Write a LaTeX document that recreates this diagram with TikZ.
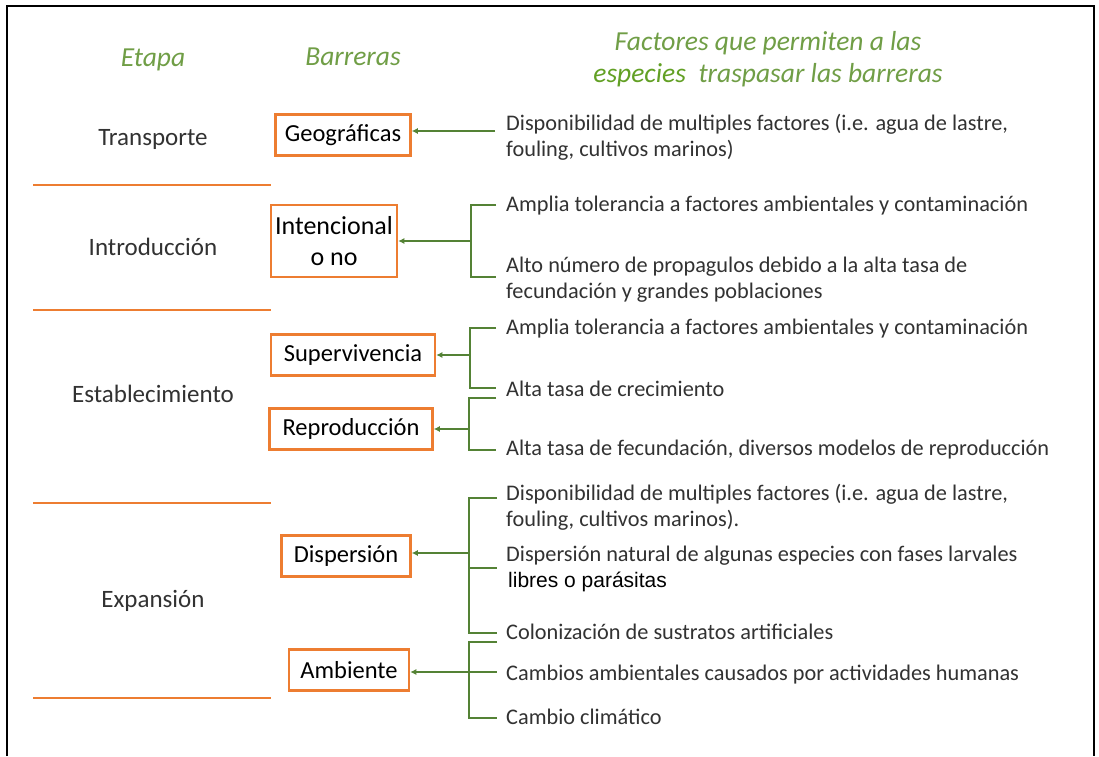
\documentclass[tikz,border=0pt]{standalone}
\usepackage{fontspec}
\setmainfont{Carlito}
\newfontfamily\arialfont{Liberation Sans}
\usetikzlibrary{arrows.meta, positioning}
\definecolor{barrgreen}{RGB}{84,130,53}
\definecolor{headgreen}{RGB}{112,158,70}
\definecolor{spgreen}{RGB}{98,160,36}
\definecolor{barrorange}{RGB}{237,125,49}
\definecolor{textgray}{RGB}{50,50,50}

\begin{document}
\begin{tikzpicture}[x=1pt, y=-1pt,
      header/.style={
          font=\fontsize{27.5}{32}\selectfont\itshape,
          text=headgreen,
          align=center
        },
      stage/.style={
          font=\fontsize{25}{30}\selectfont,
          text=textgray
        },
      barrier/.style={
          draw=barrorange,
          fill=white,
          line width=2.5pt,
          minimum height=41pt,
          inner sep=2pt,
          font=\fontsize{24.5}{29}\selectfont,
          text=black,
          align=center
        },
      factor/.style={
          anchor=west,
          inner sep=0pt,
          font=\fontsize{22.3}{26}\selectfont,
          text=textgray,
          align=left
        },
      rule/.style={barrorange, line width=2.5pt},
      brace/.style={barrgreen, line width=2.8pt},
      flow/.style={-{Latex[length=6pt,width=6pt]}, barrgreen, line width=2.8pt}
    ]
    \useasboundingbox (0,0) rectangle (1099,756);
    \fill[white] (0,0) rectangle (1099,756);
    \draw[line width=2pt] (7,756) -- (7,6) -- (1094,6) -- (1094,756);

    \node[header] (hstage) at (153,60) {Etapa};
    \node[header] (hbarr) at (353,57) {Barreras};
    \node[header] (hfact) at (768,59) {Factores que permiten a las\\{\color{spgreen}especies}\ \ traspasar las barreras};

    \node[stage] (transp) at (153,139) {Transporte};
    \node[stage] (intro) at (153,247) {Introducción};
    \node[stage] (estab) at (153,394) {Establecimiento};
    \node[stage] (expan) at (153,601) {Expansión};

    \draw[rule] (33,185) -- (271,185);
    \draw[rule] (33,310) -- (271,310);
    \draw[rule] (33,503) -- (271,503);
    \draw[rule] (33,698) -- (271,698);

    \node[barrier, minimum width=135pt] (geo) at (343,135) {Geográficas};
    \node[barrier, minimum width=126pt, minimum height=72pt, font=\fontsize{26}{31}\selectfont] (intenc) at (334,241) {Intencional\\o no};
    \node[barrier, minimum width=164pt] (superv) at (353,355) {Supervivencia};
    \node[barrier, minimum width=163pt] (reprod) at (351,429) {Reproducción};
    \node[barrier, minimum width=129pt] (disp) at (346,556) {Dispersión};
    \node[barrier, minimum width=120pt] (amb) at (349,670) {Ambiente};

    \node[factor] (f1) at (506,137) {Disponibilidad de multiples factores (i.e. agua de lastre,\\fouling, cultivos marinos)};
    \node[factor] (f2) at (506,206) {Amplia tolerancia a factores ambientales y contaminación};
    \node[factor] (f3) at (506,280) {Alto número de propagulos debido a la alta tasa de\\fecundación y grandes poblaciones};
    \node[factor] (f4) at (506,329) {Amplia tolerancia a factores ambientales y contaminación};
    \node[factor] (f5) at (506,389) {Alta tasa de crecimiento};
    \node[factor] (f6) at (506,450) {Alta tasa de fecundación, diversos modelos de reproducción};
    \node[factor] (f7) at (506,507) {Disponibilidad de multiples factores (i.e. agua de lastre,\\fouling, cultivos marinos).};
    \node[factor] (f8) at (506,556) {Dispersión natural de algunas especies con fases larvales};
    \node[factor, text=black, font=\fontsize{21}{25}\arialfont] (f9) at (508,582) {libres o parásitas};
    \node[factor] (f10) at (506,632) {Colonización de sustratos artificiales};
    \node[factor] (f11) at (506,675) {Cambios ambientales causados por actividades humanas};
    \node[factor] (f12) at (506,717) {Cambio climático};

    \coordinate (geoJ) at (495,131);
    \draw[flow] (geoJ) -- (geoJ -| geo.east);

    \coordinate (intTop) at (496,205);
    \coordinate (intBot) at (496,277);
    \coordinate (intJ) at (471,241);
    \draw[brace] (intTop) -| (intJ) |- (intBot);
    \draw[flow] (intJ) -- (intJ -| intenc.east);

    \coordinate (supTop) at (496,328);
    \coordinate (supBot) at (496,388);
    \coordinate (supJ) at (470,355);
    \draw[brace] (supTop) -| (supJ) |- (supBot);
    \draw[flow] (supJ) -- (supJ -| superv.east);

    \coordinate (repTop) at (496,398);
    \coordinate (repBot) at (496,450);
    \coordinate (repJ) at (469,429);
    \draw[brace] (repTop) -| (repJ) |- (repBot);
    \draw[flow] (repJ) -- (repJ -| reprod.east);

    \coordinate (dispTop) at (497,498);
    \coordinate (dispMid) at (497,568);
    \coordinate (dispBot) at (497,633);
    \coordinate (dispJ) at (469,553);
    \draw[brace] (dispTop) -| (dispJ) |- (dispBot);
    \draw[brace] (dispJ |- dispMid) -- (dispMid);
    \draw[flow] (dispJ) -- (dispJ -| disp.east);

    \coordinate (ambTop) at (497,642);
    \coordinate (ambMid) at (497,672);
    \coordinate (ambBot) at (497,718);
    \coordinate (ambJ) at (469,672);
    \draw[brace] (ambTop) -| (ambJ) |- (ambBot);
    \draw[brace] (ambJ) -- (ambMid);
    \draw[flow] (ambJ) -- (ambJ -| amb.east);
  \end{tikzpicture}
\end{document}
